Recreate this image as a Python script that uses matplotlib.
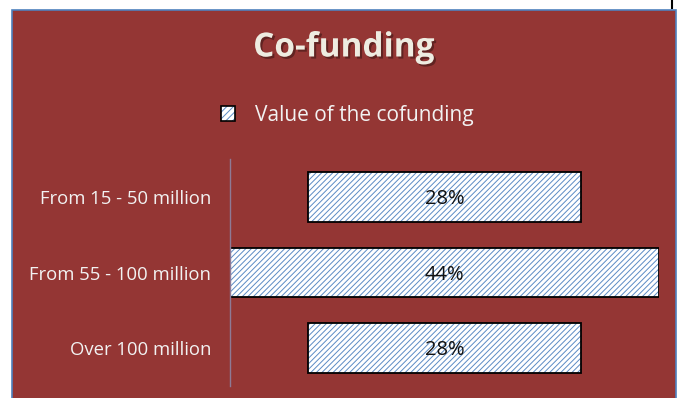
import matplotlib
matplotlib.use("Agg")
import matplotlib.pyplot as plt
import matplotlib.patheffects as pe
from matplotlib.patches import Rectangle, Patch
from matplotlib.lines import Line2D
from matplotlib.legend_handler import HandlerTuple

categories = ["From 15 - 50 million", "From 55 - 100 million", "Over 100 million"]
values = [28, 44, 28]
value_labels = ["28%", "44%", "28%"]
series_name = "Value of the cofunding"
title = "Co-funding"

BG = "#943634"
BORDER = "#4F81BD"
HATCH = "#5B8BC4"
TEXT = "#F2F2F2"
FONT = ["Open Sans", "DejaVu Sans"]

plt.rcParams["hatch.linewidth"] = 0.7
plt.rcParams["font.family"] = FONT

W, H = 681, 398
fig = plt.figure(figsize=(W / 100, H / 100), dpi=100)
fig.patch.set_facecolor("white")

# chart frame
fig.patches.append(Rectangle((12 / W, -0.05), (676 - 12) / W, (H - 10) / H + 0.05,
                             transform=fig.transFigure, facecolor=BG,
                             edgecolor=BORDER, linewidth=1.2, zorder=-10))
fig.lines.append(Line2D([672 / W, 672 / W], [1.0, 1 - 8 / H], transform=fig.transFigure,
                        color="black", linewidth=1.5))

ax = fig.add_axes([230 / W, 12.25 / H, 429 / W, (385.75 - 159.25) / H])
ax.set_facecolor("none")
ax.set_zorder(1)

peak = max(values)
offsets = [(peak - v) / 2 for v in values]
ypos = list(range(len(categories)))
# hatched fill, then black outline on top
ax.barh(ypos, values, left=offsets, height=0.66, color="white",
        edgecolor=HATCH, linewidth=0, hatch="//////")
ax.barh(ypos, values, left=offsets, height=0.66, fill=False,
        edgecolor="black", linewidth=1.3)

for y, v, off, lab in zip(ypos, values, offsets, value_labels):
    ax.text(off + v / 2, y + 0.03, lab, ha="center", va="center", fontsize=14.5, color="#111111")

ax.set_xlim(0, peak)
ax.set_ylim(len(categories) - 0.5, -0.5)
ax.set_xticks([])
ax.set_yticks(ypos)
ax.set_yticklabels(categories, fontsize=13.3, color=TEXT)
ax.tick_params(axis="y", length=0, pad=13.5)
for s in ["top", "right", "bottom"]:
    ax.spines[s].set_visible(False)
ax.spines["left"].set_color("#8E7A96")
ax.spines["left"].set_linewidth(1.0)

fig.text(344 / W, 1 - 48 / H, title, ha="center", va="center", fontsize=24,
         fontweight="bold", color="#EEECE1",
         path_effects=[pe.withSimplePatchShadow(offset=(1.5, -1.5), shadow_rgbFace="black", alpha=0.35)])

h_fill = Patch(facecolor="white", edgecolor=HATCH, hatch="/////", linewidth=0)
h_edge = Patch(fill=False, edgecolor="black", linewidth=1.2)
leg = fig.legend([(h_fill, h_edge)], [series_name], loc="center",
                 bbox_to_anchor=(347 / W, 1 - 115 / H),
                 handler_map={tuple: HandlerTuple(ndivide=1, pad=0)},
                 frameon=False, fontsize=15, handlelength=0.7, handleheight=0.7,
                 handletextpad=0.95, labelcolor=TEXT)

fig.savefig("out.png", dpi=100, facecolor=fig.get_facecolor())
